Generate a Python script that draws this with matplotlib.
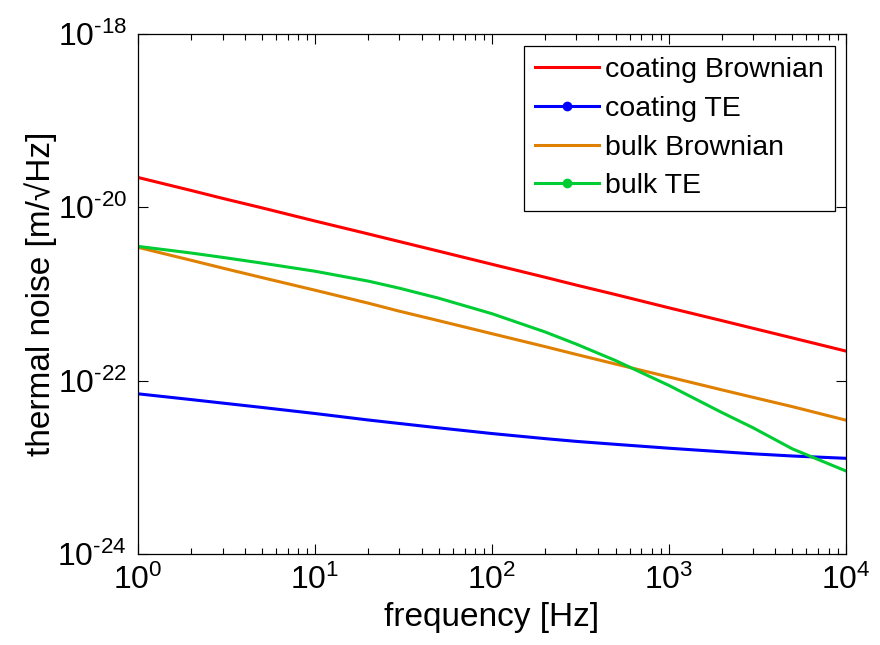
import matplotlib
matplotlib.use("Agg")
import matplotlib.pyplot as plt
from matplotlib.lines import Line2D
import matplotlib.ticker as mticker
import math

plt.rcParams['font.family'] = ['Liberation Sans', 'DejaVu Sans']
plt.rcParams['mathtext.fontset'] = 'custom'
plt.rcParams['mathtext.rm'] = 'Liberation Sans'
plt.rcParams['mathtext.it'] = 'Liberation Sans'
plt.rcParams['axes.unicode_minus'] = False

freq = [1, 2, 3, 5, 10, 20, 30, 50, 100, 200, 300, 500, 1000, 2000, 3000, 5000, 10000]
coating_brownian = [2.19e-20, 1.55e-20, 1.26e-20, 9.8e-21, 6.9e-21, 4.9e-21, 4.0e-21, 3.1e-21,
                    2.19e-21, 1.55e-21, 1.26e-21, 9.8e-22, 6.9e-22, 4.9e-22, 4.0e-22, 3.1e-22,
                    2.19e-22]
coating_te = [7.03e-23, 6.03e-23, 5.5e-23, 4.9e-23, 4.17e-23, 3.51e-23, 3.2e-23, 2.85e-23,
              2.45e-23, 2.14e-23, 1.99e-23, 1.84e-23, 1.66e-23, 1.51e-23, 1.43e-23, 1.35e-23,
              1.27e-23]
bulk_brownian = [3.43e-21, 2.43e-21, 1.98e-21, 1.54e-21, 1.10e-21, 7.8e-22, 6.3e-22, 4.9e-22,
                 3.47e-22, 2.46e-22, 2.0e-22, 1.55e-22, 1.10e-22, 7.8e-23, 6.4e-23, 5.0e-23,
                 3.5e-23]
bulk_te = [3.52e-21, 2.95e-21, 2.63e-21, 2.26e-21, 1.82e-21, 1.40e-21, 1.16e-21, 8.9e-22,
           5.9e-22, 3.63e-22, 2.63e-22, 1.70e-22, 8.8e-23, 4.27e-23, 2.85e-23, 1.63e-23,
           9.1e-24]
labels = ['coating Brownian', 'coating TE', 'bulk Brownian', 'bulk TE']
colors = ['#ff0000', '#0000ff', '#e08000', '#00cc33']
markers = ['None', '.', 'None', '.']
y_ticks = [1e-24, 1e-22, 1e-20, 1e-18]

fig = plt.figure(figsize=(8.8, 6.45), dpi=100)
ax = fig.add_axes([0.157, 0.141, 0.804, 0.807])

series = [coating_brownian, coating_te, bulk_brownian, bulk_te]
for s, c in zip(series, colors):
    ax.plot(freq, s, color=c, lw=2.2)

ax.set_xscale('log')
ax.set_yscale('log')
ax.set_xlim(1, 1e4)
ax.set_ylim(1e-24, 1e-18)


def fmt(v, pos):
    e = int(round(math.log10(v)))
    return r'$\mathregular{10^{\text{%d}}}$' % e


ax.xaxis.set_major_locator(mticker.LogLocator(base=10, numticks=10))
ax.xaxis.set_minor_locator(mticker.LogLocator(base=10, subs=range(2, 10), numticks=20))
ax.yaxis.set_major_locator(mticker.FixedLocator(y_ticks))
ax.yaxis.set_minor_locator(mticker.NullLocator())
ax.xaxis.set_major_formatter(mticker.FuncFormatter(fmt))
ax.yaxis.set_major_formatter(mticker.FuncFormatter(fmt))

ax.tick_params(which='both', direction='in', top=True, right=True, labelsize=23, width=0.8)
ax.tick_params(which='major', length=7, pad=8)
ax.tick_params(which='minor', length=4)
for sp in ax.spines.values():
    sp.set_linewidth(0.9)

ax.set_xlabel('frequency [Hz]', fontsize=24, labelpad=4)
ax.set_ylabel('thermal noise [m/\u221aHz]', fontsize=24, labelpad=0)

handles = [Line2D([0], [0], color=c, lw=2.2, marker=m, markersize=12)
           for c, m in zip(colors, markers)]
leg = ax.legend(handles, labels, loc='upper right', fontsize=20.5, frameon=True,
                fancybox=False, edgecolor='black', framealpha=1,
                bbox_to_anchor=(0.985, 0.977), borderpad=0.4, labelspacing=0.45,
                handlelength=2.25, handletextpad=0.2, borderaxespad=0)
leg.get_frame().set_linewidth(0.9)

fig.savefig('out.png', dpi=100)
